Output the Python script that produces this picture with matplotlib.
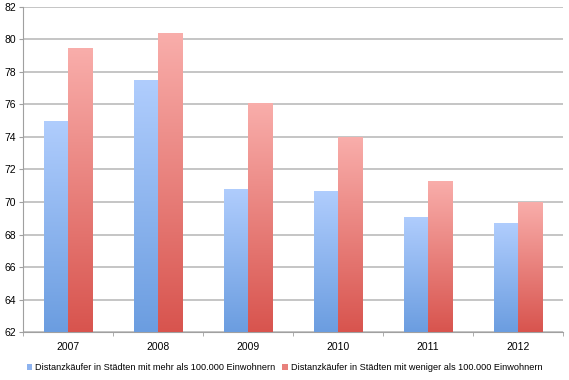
import numpy as np
import matplotlib
matplotlib.use("Agg")
import matplotlib.pyplot as plt
from matplotlib.colors import LinearSegmentedColormap
from matplotlib.patches import Patch

years = ["2007", "2008", "2009", "2010", "2011", "2012"]
series_names = ["Distanzkäufer in Städten mit mehr als 100.000 Einwohnern",
                "Distanzkäufer in Städten mit weniger als 100.000 Einwohnern"]
big_cities = [75.0, 77.5, 70.8, 70.7, 69.1, 68.7]
small_cities = [79.5, 80.4, 76.1, 74.0, 71.3, 70.0]

plt.rcParams['font.family'] = ['Liberation Sans', 'DejaVu Sans']

fig = plt.figure(figsize=(5.69, 3.80), dpi=100)
ax = fig.add_axes([0.0404, 0.1263, 0.9486, 0.8553])

x = np.arange(len(years))
w = 0.267
ymin, ymax = 62, 82

cmaps = [
    LinearSegmentedColormap.from_list("b", ["#6b9de0", "#b0cdfd"]),
    LinearSegmentedColormap.from_list("r", ["#d8544e", "#f9aeab"]),
]
solid = ["#8db3ef", "#e8817c"]

for i, (vals, off) in enumerate([(big_cities, -w / 2), (small_cities, w / 2)]):
    bars = ax.bar(x + off, np.array(vals) - ymin, width=w, bottom=ymin,
                  color='none', edgecolor='none', zorder=3)
    grad = np.linspace(0, 1, 256).reshape(-1, 1)
    for b in bars:
        x0, y0 = b.get_x(), b.get_y()
        x1, y1 = x0 + b.get_width(), y0 + b.get_height()
        im = ax.imshow(grad, cmap=cmaps[i], origin='lower', aspect='auto',
                       extent=[x0, x1, y0, y1], zorder=3, interpolation='bilinear')
        im.set_clip_path(b)

ax.set_xlim(-0.5, len(years) - 0.5)
ax.set_ylim(ymin, ymax)
ax.set_yticks(np.arange(62, 83, 2))
ax.set_xticks(x)
ax.set_xticklabels(years)
ax.set_xticks(np.arange(-0.5, len(years), 1), minor=True)
ax.tick_params(axis='x', which='major', length=0, labelsize=7.5, pad=7)
ax.tick_params(axis='x', which='minor', length=3, color='#a0a0a0', direction='out')
ax.tick_params(axis='y', length=3, color='#a0a0a0', labelsize=7.5, pad=2)
ax.yaxis.grid(True, color='#c0c0c0', linewidth=1.3, zorder=0)
ax.set_axisbelow(True)
for s in ['top', 'right']:
    ax.spines[s].set_visible(False)
ax.spines['left'].set_color('#a0a0a0')
ax.spines['bottom'].set_color('#a0a0a0')

handles = [Patch(facecolor=solid[0]), Patch(facecolor=solid[1])]
fig.legend(handles, series_names, loc='center', bbox_to_anchor=(0.5, 0.032),
           ncol=2, frameon=False, fontsize=6.6, handlelength=0.6, handleheight=0.6,
           handletextpad=0.3, columnspacing=0.8, borderpad=0)

fig.savefig("out.png", dpi=100)
